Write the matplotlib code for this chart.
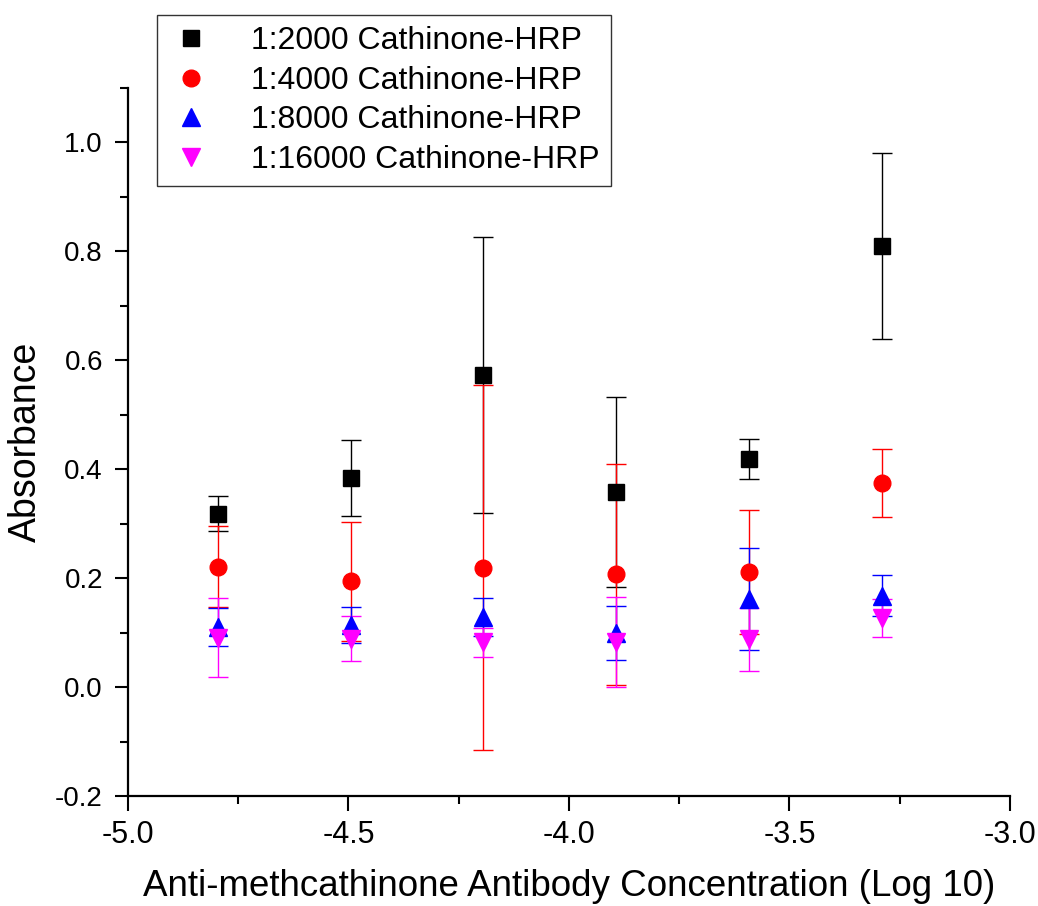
import matplotlib
matplotlib.use('Agg')
from matplotlib import pyplot as plt
from matplotlib.ticker import MultipleLocator

# x = log10 of antibody concentration
x = [-4.796, -4.495, -4.194, -3.893, -3.592, -3.291]

labels = ['1:2000 Cathinone-HRP', '1:4000 Cathinone-HRP',
          '1:8000 Cathinone-HRP', '1:16000 Cathinone-HRP']

y_2000 = [0.318, 0.384, 0.573, 0.358, 0.419, 0.810]
e_2000 = [0.032, 0.069, 0.253, 0.175, 0.037, 0.171]

y_4000 = [0.221, 0.194, 0.219, 0.207, 0.211, 0.375]
e_4000 = [0.074, 0.109, 0.335, 0.203, 0.114, 0.062]

y_8000 = [0.110, 0.114, 0.129, 0.099, 0.162, 0.168]
e_8000 = [0.035, 0.033, 0.035, 0.050, 0.094, 0.037]

y_16000 = [0.091, 0.089, 0.082, 0.083, 0.088, 0.127]
e_16000 = [0.072, 0.042, 0.026, 0.083, 0.058, 0.035]

plt.rcParams['font.family'] = ['Liberation Sans', 'DejaVu Sans']
plt.rcParams['axes.unicode_minus'] = False

fig = plt.figure(figsize=(10.38, 9.06), dpi=100)
ax = fig.add_axes([0.1233, 0.1214, 0.8497, 0.7815])

series = [
    (y_2000, e_2000, 's', 'black', 11),
    (y_4000, e_4000, 'o', 'red', 12),
    (y_8000, e_8000, '^', 'blue', 13),
    (y_16000, e_16000, 'v', 'magenta', 13),
]
handles = []
for (y, e, m, c, ms), lab in zip(series, labels):
    cont = ax.errorbar(x, y, yerr=e, fmt=m, color=c, ms=ms, mec=c,
                       ecolor=c, elinewidth=1, capsize=7, capthick=1,
                       label=lab)
    handles.append(cont.lines[0])

ax.set_xlim(-5.0, -3.0)
ax.set_ylim(-0.2, 1.1)
ax.xaxis.set_minor_locator(MultipleLocator(0.25))
ax.yaxis.set_minor_locator(MultipleLocator(0.1))
ax.set_yticks([-0.2, 0.0, 0.2, 0.4, 0.6, 0.8, 1.0])
ax.set_yticklabels(['-0.2', '0.0', '0.2', '0.4', '0.6', '0.8', '1.0'])
ax.set_xticks([-5.0, -4.5, -4.0, -3.5, -3.0])
ax.set_xticklabels(['-5.0', '-4.5', '-4.0', '-3.5', '-3.0'])

for s in ['top', 'right']:
    ax.spines[s].set_visible(False)
for s in ['left', 'bottom']:
    ax.spines[s].set_linewidth(1.6)

ax.tick_params(axis='y', which='major', direction='out', length=9.5, width=1.5,
               labelsize=20, pad=8.5)
ax.tick_params(axis='y', which='minor', direction='out', length=6, width=1.5)
ax.tick_params(axis='x', which='major', direction='out', length=11, width=1.5,
               labelsize=22, pad=6)
ax.tick_params(axis='x', which='minor', direction='out', length=6, width=1.5)

ax.set_xlabel('Anti-methcathinone Antibody Concentration (Log 10)',
              fontsize=26.5, labelpad=14)
ax.set_ylabel('Absorbance', fontsize=27, labelpad=8)

leg = ax.legend(handles, labels, loc='upper left',
                bbox_to_anchor=(157 / 1038, 1 - 15 / 906),
                bbox_transform=fig.transFigure, borderaxespad=0,
                fontsize=23, fancybox=False, framealpha=1,
                edgecolor='#333333', handlelength=1.4, handletextpad=1.2,
                labelspacing=0.3, borderpad=0.35)
leg.get_frame().set_linewidth(1.0)

fig.savefig('out.png', dpi=100)
